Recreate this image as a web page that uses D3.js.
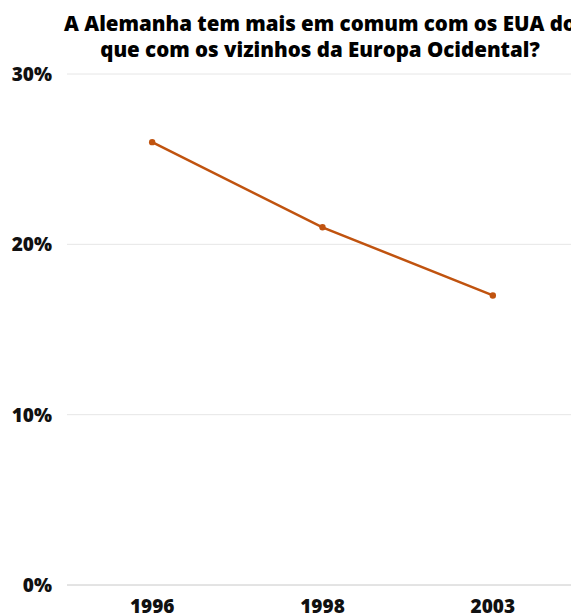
<!DOCTYPE html>
<html><head><meta charset="utf-8">
<script src="https://cdn.jsdelivr.net/npm/d3@7"></script>
<style>body{margin:0;background:#fff;overflow:hidden}svg{display:block}text{font-family:"Open Sans",sans-serif;font-weight:800}</style>
</head><body>
<script>
const categories = ["1996", "1998", "2003"];
const values = [26, 21, 17];
const yTicks = [0, 10, 20, 30];
const titleLines = ["A Alemanha tem mais em comum com os EUA do", "que com os vizinhos da Europa Ocidental?"];

const W = 571, H = 615;
const svg = d3.select("body").append("svg").attr("width", W).attr("height", H);
const x = d3.scalePoint().domain(categories).range([67, 578]).padding(0.5);
const y = d3.scaleLinear().domain([0, 30]).range([585, 74]);

svg.append("g").selectAll("line").data(yTicks).join("line")
  .attr("x1", 67).attr("x2", W)
  .attr("y1", d => y(d)).attr("y2", d => y(d))
  .attr("stroke", d => d === 0 ? "#c8c8c8" : "#e6e6e6").attr("stroke-width", 1);

svg.append("g").selectAll("text").data(yTicks).join("text")
  .attr("x", 52).attr("y", d => y(d) + 7)
  .attr("text-anchor", "end").attr("font-size", 19).attr("fill", "#111")
  .text(d => d + "%");

svg.append("g").selectAll("text").data(categories).join("text")
  .attr("x", d => x(d)).attr("y", 613)
  .attr("text-anchor", "middle").attr("font-size", 19).attr("fill", "#111")
  .text(d => d);

const data = categories.map((c, i) => ({c, v: values[i]}));
svg.append("path").datum(data)
  .attr("fill", "none").attr("stroke", "#c0530f").attr("stroke-width", 2.5)
  .attr("d", d3.line().x(d => x(d.c)).y(d => y(d.v)));
svg.append("g").selectAll("circle").data(data).join("circle")
  .attr("cx", d => x(d.c)).attr("cy", d => y(d.v)).attr("r", 3.2).attr("fill", "#c0530f");

svg.append("g").selectAll("text").data(titleLines).join("text")
  .attr("x", 320).attr("y", (d, i) => 31 + i * 25.5)
  .attr("text-anchor", "middle").attr("font-size", 20.5).attr("fill", "#000")
  .text(d => d);
</script>
</body></html>
